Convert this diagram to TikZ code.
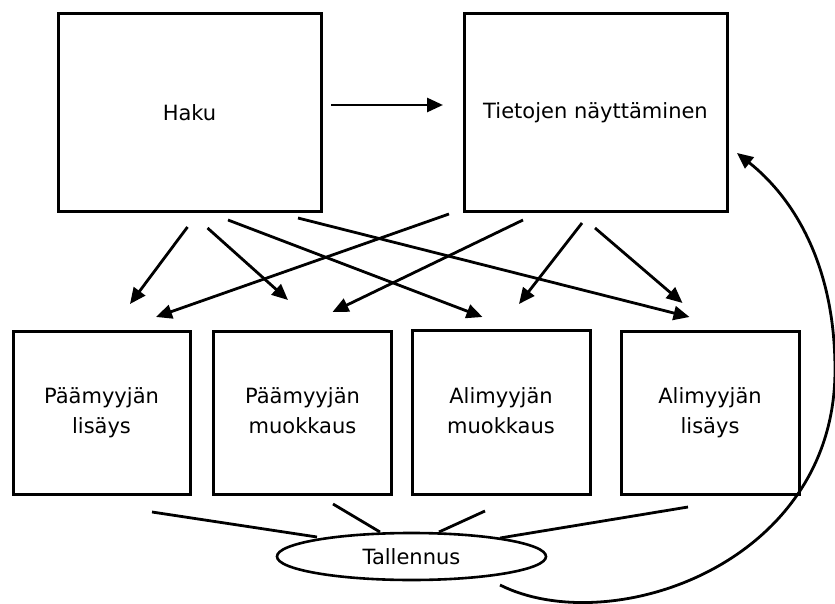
\documentclass[tikz,border=0pt]{standalone}
\usepackage{fontspec}
\setmainfont{DejaVu Sans}
\usetikzlibrary{arrows.meta,shapes.geometric}
\begin{document}
\begin{tikzpicture}[x=1pt,y=-1pt,
  box/.style={draw=black,line width=3pt,inner sep=0pt,align=center,
    font=\fontsize{21}{30}\selectfont},
  conn/.style={line width=2.8pt,draw=black},
  arr/.style={conn,-{Triangle[length=16pt,width=14pt]}},
  oval/.style={draw=black,ellipse,line width=2.6pt,inner sep=0pt,
    minimum width=269pt,minimum height=47pt,font=\fontsize{21}{25}\selectfont}]
\useasboundingbox (0,0) rectangle (835,604);
% boxes
\node[box,minimum width=263pt,minimum height=198pt] (haku) at (189.5,113) {Haku};
\node[box,minimum width=263pt,minimum height=198pt] (tiet) at (595.5,113) {Tietojen näyttäminen};
\node[box,minimum width=177pt,minimum height=163pt] (b1) at (101.5,412.5) {\strut Päämyyjän\\lisäys\strut};
\node[box,minimum width=178pt,minimum height=163pt] (b2) at (302.5,412.5) {\strut Päämyyjän\\muokkaus\strut};
\node[box,minimum width=178pt,minimum height=164pt] (b3) at (501,412) {\strut Alimyyjän\\muokkaus\strut};
\node[box,minimum width=178pt,minimum height=163pt] (b4) at (710,412.5) {\strut Alimyyjän\\lisäys\strut};
\node[oval] (tal) at (411.5,556.5) {Tallennus};
% arrow endpoints
\coordinate (h0s) at (331,105); \coordinate (h0e) at (443,105);
\coordinate (h1s) at (187.5,227); \coordinate (h1e) at (130,304);
\coordinate (h2s) at (207.5,228); \coordinate (h2e) at (288,300);
\coordinate (h3s) at (228,220);   \coordinate (h3e) at (482.5,317);
\coordinate (h4s) at (298,218);   \coordinate (h4e) at (689.5,317);
\coordinate (t1s) at (449,214);   \coordinate (t1e) at (156,317);
\coordinate (t2s) at (523,220);   \coordinate (t2e) at (332.5,312);
\coordinate (t3s) at (582,223);   \coordinate (t3e) at (519,304);
\coordinate (t4s) at (595,228);   \coordinate (t4e) at (682.5,303);
\draw[arr] (h0s) -- (h0e);
\draw[arr] (h1s) -- (h1e);
\draw[arr] (h2s) -- (h2e);
\draw[arr] (h3s) -- (h3e);
\draw[arr] (h4s) -- (h4e);
\draw[arr] (t1s) -- (t1e);
\draw[arr] (t2s) -- (t2e);
\draw[arr] (t3s) -- (t3e);
\draw[arr] (t4s) -- (t4e);
% lines to Tallennus
\coordinate (l1s) at (152,512); \coordinate (l1e) at (317,537);
\coordinate (l2s) at (333,504); \coordinate (l2e) at (380,532);
\coordinate (l3s) at (485,511); \coordinate (l3e) at (439,532);
\coordinate (l4s) at (688,507); \coordinate (l4e) at (500,538);
\draw[conn] (l1s) -- (l1e);
\draw[conn] (l2s) -- (l2e);
\draw[conn] (l3s) -- (l3e);
\draw[conn] (l4s) -- (l4e);
% return curve
\coordinate (cs) at (500,585);
\coordinate (cm) at (835,370);
\coordinate (ce) at (737,153);
\draw[arr] (cs) .. controls (610,640) and (835,565) .. (cm)
  .. controls (835,260) and (790,195) .. (ce);
\end{tikzpicture}
\end{document}
